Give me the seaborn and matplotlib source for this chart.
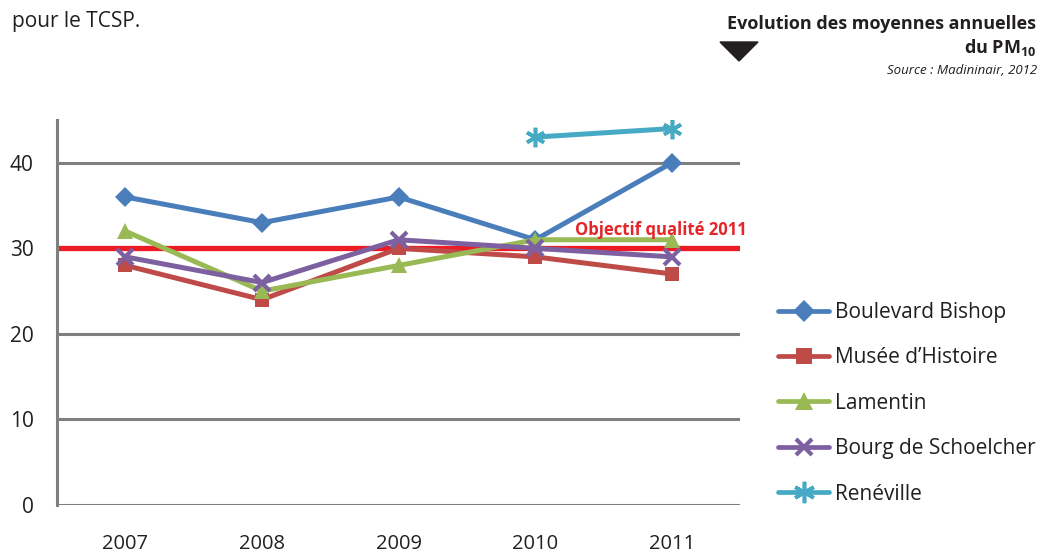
import numpy as np
import pandas as pd
import matplotlib
matplotlib.use("Agg")
import matplotlib.pyplot as plt
from matplotlib.patches import Polygon
from matplotlib.lines import Line2D
import seaborn as sns

years = [2007, 2008, 2009, 2010, 2011]
sites = ["Boulevard Bishop", "Musée d\u2019Histoire", "Lamentin",
         "Bourg de Schoelcher", "Renéville"]
boulevard_bishop = [36, 33, 36, 31, 40]
musee_histoire = [28, 24, 30, 29, 27]
lamentin = [32, 25, 28, 31, 31]
bourg_schoelcher = [29, 26, 31, 30, 29]
reneville = [np.nan, np.nan, np.nan, 43, 44]
objectif = 30
y_ticks = [0, 10, 20, 30, 40]

colors = ["#4A7EBB", "#BE4B48", "#98B954", "#7D60A0", "#46AAC5"]
markers = ["D", "s", "^", "x", (6, 2, 0)]
marker_sizes = [10.5, 10, 11.5, 11, 14]
edge_widths = [0, 0, 0, 3, 2.6]

series = [boulevard_bishop, musee_histoire, lamentin, bourg_schoelcher, reneville]
df = pd.DataFrame({
    "annee": years * len(sites),
    "site": [s for s in sites for _ in years],
    "pm10": [v for vals in series for v in vals],
})

sns.set_theme(style="white")
plt.rcParams["font.family"] = ["Open Sans", "DejaVu Sans"]
plt.rcParams["mathtext.fontset"] = "custom"
plt.rcParams["mathtext.rm"] = "Open Sans"
plt.rcParams["mathtext.bf"] = "Open Sans:bold"

TXT = "#231F20"
fig = plt.figure(figsize=(10.59, 5.55), dpi=100)
ax = fig.add_axes([0.054, 0.0901, 0.645, 0.6937])

handles = []
for site, c, m, ms, mew in zip(sites, colors, markers, marker_sizes, edge_widths):
    sub = df[df["site"] == site].dropna()
    sns.lineplot(data=sub, x="annee", y="pm10", color=c, marker=m,
                 markersize=ms, markerfacecolor=c, markeredgecolor=c,
                 markeredgewidth=mew, linewidth=3.6, ax=ax, zorder=3,
                 legend=False)
    handles.append(Line2D([], [], color=c, lw=3.4, marker=m, markersize=ms * 1.1,
                          markerfacecolor=c, markeredgecolor=c,
                          markeredgewidth=mew))

# Grid lines and quality target
for t in y_ticks:
    ax.axhline(t, color="#7F7F7F", lw=2.2, zorder=1)
ax.axhline(objectif, color="#ED1C24", lw=3.8, zorder=2)
ax.text(2010.29, 31.6, "Objectif qualité 2011", color="#E3262A",
        fontsize=12, fontweight="bold", ha="left", va="baseline",
        clip_on=False, zorder=4)

ax.set_xlim(2006.5, 2011.5)
ax.set_ylim(0, 45)
ax.set_xticks(years)
ax.set_xticklabels([str(y) for y in years])
ax.set_yticks(y_ticks)
ax.set_xlabel("")
ax.set_ylabel("")
ax.tick_params(axis="x", length=0, pad=21, labelsize=14.5, labelcolor=TXT)
ax.tick_params(axis="y", length=0, pad=17, labelsize=15, labelcolor=TXT)
for side in ["top", "right", "bottom"]:
    ax.spines[side].set_visible(False)
ax.spines["left"].set_color("#7F7F7F")
ax.spines["left"].set_linewidth(2.2)

fig.legend(handles, sites, loc="upper left", bbox_to_anchor=(778 / 1059, 1 - 302 / 555),
           frameon=False, fontsize=15, handlelength=2.45, handletextpad=0.3,
           labelspacing=1.17, borderpad=0, borderaxespad=0, labelcolor=TXT)

# Header texts
fig.text(12 / 1059, 1 - 27 / 555, "pour le TCSP.", fontsize=15,
         color=TXT, ha="left", va="baseline")
fig.text(1036 / 1059, 1 - 29 / 555, "Evolution des moyennes annuelles",
         fontsize=13, fontweight="bold", color=TXT, ha="right", va="baseline")
fig.text(1036 / 1059, 1 - 53 / 555, r"du PM$_{\mathbf{10}}$",
         fontsize=13, fontweight="bold", color=TXT, ha="right", va="baseline")
fig.text(1037 / 1059, 1 - 74 / 555, "Source : Madininair, 2012",
         fontsize=9.5, fontstyle="italic", color=TXT, ha="right", va="baseline")
tri = Polygon([[720 / 1059, 1 - 42 / 555], [758 / 1059, 1 - 42 / 555],
               [739 / 1059, 1 - 61 / 555]], closed=True,
              transform=fig.transFigure, color=TXT)
fig.patches.append(tri)

fig.savefig("out.png", dpi=100, facecolor="white")
